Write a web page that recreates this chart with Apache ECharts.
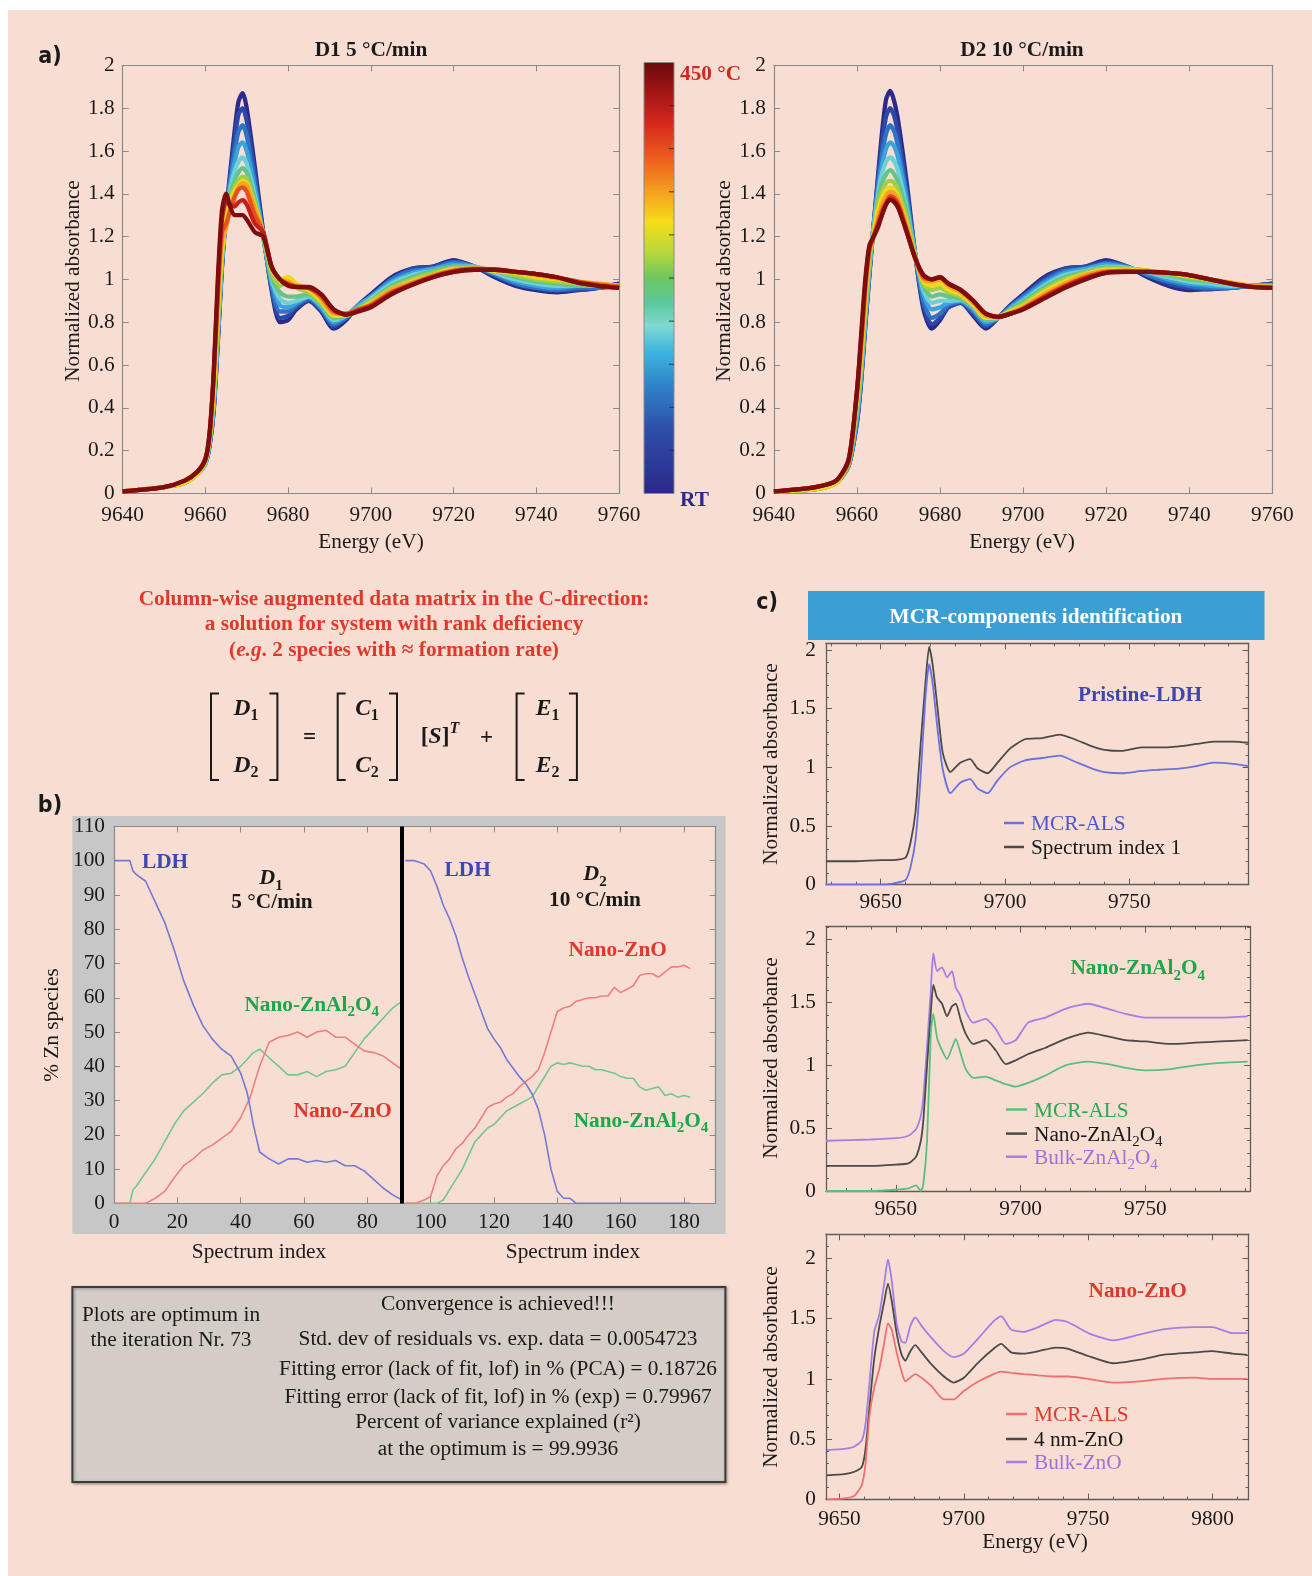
<!DOCTYPE html>
<html><head><meta charset="utf-8">
<script src="https://cdn.jsdelivr.net/npm/echarts@6/dist/echarts.min.js"></script>
<style>
html,body{margin:0;padding:0;background:#fff;width:1312px;height:1576px;overflow:hidden;}
#bg{position:absolute;left:8px;top:10px;width:1304px;height:1566px;background:#f8ded2;}
#chart{position:absolute;left:0;top:0;width:1312px;height:1576px;}
</style></head><body><div id="bg"></div><div id="chart"></div>
<script>
// ================= DATA =================
// Panel a: XANES spectra (energy grid shared by all curves)
const A_ENERGY = [9640,9650,9655,9658,9660,9661,9662,9663,9664,9665,9666,9667,9668,9669,9670,9672,9674,9676,9678,9680,9682,9685,9688,9691,9694,9697,9700,9705,9710,9715,9720,9725,9730,9735,9740,9745,9750,9755,9760];
const A_X_TICKS = [9640,9660,9680,9700,9720,9740,9760];
const A_Y_TICKS = [0,0.2,0.4,0.6,0.8,1,1.2,1.4,1.6,1.8,2];
// D1 5 °C/min, RT -> 450 °C
const D1_S0 = [0.01,0.03,0.05,0.09,0.14,0.22,0.38,0.70,1.05,1.30,1.50,1.68,1.83,1.87,1.80,1.52,1.22,0.95,0.80,0.81,0.86,0.90,0.85,0.77,0.81,0.88,0.93,1.01,1.05,1.06,1.09,1.06,1.01,0.97,0.95,0.94,0.95,0.96,0.98];
const D1_S1 = [0.01,0.03,0.05,0.09,0.14,0.22,0.39,0.71,1.06,1.30,1.48,1.64,1.77,1.80,1.74,1.49,1.21,0.96,0.82,0.83,0.87,0.90,0.86,0.78,0.82,0.88,0.92,1.00,1.05,1.06,1.08,1.06,1.02,0.98,0.96,0.95,0.95,0.96,0.98];
const D1_S2 = [0.01,0.03,0.05,0.09,0.14,0.23,0.40,0.72,1.07,1.30,1.46,1.59,1.69,1.72,1.67,1.45,1.20,0.97,0.85,0.85,0.88,0.91,0.86,0.79,0.82,0.88,0.92,1.00,1.04,1.05,1.08,1.06,1.02,0.98,0.96,0.95,0.96,0.96,0.97];
const D1_S3 = [0.01,0.03,0.05,0.09,0.14,0.23,0.41,0.74,1.08,1.30,1.44,1.54,1.62,1.64,1.60,1.42,1.20,0.99,0.88,0.87,0.89,0.92,0.87,0.80,0.83,0.88,0.92,0.99,1.03,1.05,1.07,1.06,1.03,0.99,0.97,0.96,0.97,0.97,0.97];
const D1_S4 = [0.01,0.03,0.05,0.09,0.14,0.24,0.42,0.75,1.09,1.30,1.42,1.50,1.55,1.57,1.54,1.39,1.20,1.00,0.91,0.89,0.90,0.92,0.88,0.81,0.83,0.87,0.91,0.98,1.02,1.04,1.06,1.06,1.03,1.00,0.98,0.97,0.97,0.97,0.97];
const D1_S5 = [0.01,0.03,0.05,0.09,0.15,0.24,0.43,0.77,1.10,1.30,1.40,1.46,1.50,1.52,1.50,1.37,1.20,1.01,0.94,0.92,0.92,0.93,0.88,0.82,0.83,0.87,0.90,0.97,1.01,1.04,1.06,1.05,1.04,1.01,0.99,0.98,0.97,0.97,0.97];
const D1_S6 = [0.01,0.03,0.05,0.09,0.15,0.25,0.45,0.80,1.11,1.28,1.38,1.43,1.46,1.48,1.47,1.35,1.21,1.03,0.97,0.99,0.96,0.94,0.89,0.83,0.83,0.86,0.90,0.96,1.00,1.03,1.05,1.05,1.04,1.02,1.00,0.99,0.98,0.97,0.97];
const D1_S7 = [0.01,0.03,0.05,0.09,0.15,0.25,0.47,0.84,1.13,1.27,1.36,1.41,1.44,1.46,1.45,1.34,1.22,1.05,1.00,1.01,0.98,0.95,0.90,0.83,0.835,0.86,0.89,0.95,0.99,1.02,1.05,1.05,1.04,1.03,1.01,1.00,0.99,0.98,0.97];
const D1_S8 = [0.01,0.03,0.06,0.10,0.16,0.27,0.52,0.90,1.18,1.24,1.33,1.39,1.43,1.45,1.44,1.33,1.22,1.06,1.00,0.99,0.97,0.96,0.91,0.84,0.84,0.86,0.885,0.95,0.985,1.02,1.045,1.05,1.045,1.035,1.02,1.005,0.99,0.98,0.97];
const D1_S9 = [0.01,0.03,0.06,0.10,0.16,0.27,0.54,0.93,1.22,1.26,1.32,1.38,1.42,1.43,1.41,1.30,1.22,1.06,1.00,0.98,0.965,0.96,0.92,0.85,0.84,0.86,0.88,0.94,0.98,1.015,1.04,1.05,1.045,1.035,1.025,1.01,0.99,0.975,0.965];
const D1_S10 = [0.01,0.03,0.06,0.10,0.16,0.27,0.55,0.96,1.28,1.36,1.35,1.34,1.36,1.37,1.35,1.26,1.22,1.06,1.00,0.975,0.965,0.96,0.93,0.86,0.835,0.855,0.875,0.935,0.975,1.01,1.035,1.045,1.045,1.035,1.025,1.01,0.985,0.97,0.96];
const D1_S11 = [0.01,0.03,0.06,0.10,0.16,0.28,0.56,1.00,1.32,1.40,1.34,1.30,1.30,1.30,1.28,1.22,1.20,1.06,1.00,0.97,0.965,0.965,0.93,0.86,0.835,0.85,0.87,0.93,0.975,1.01,1.035,1.045,1.045,1.035,1.025,1.01,0.985,0.97,0.96];
// D2 10 °C/min, RT -> 450 °C
const D2_S0 = [0.01,0.02,0.05,0.13,0.33,0.52,0.78,1.02,1.25,1.47,1.68,1.84,1.88,1.83,1.73,1.45,1.12,0.86,0.77,0.81,0.87,0.89,0.83,0.77,0.82,0.88,0.93,1.01,1.05,1.06,1.09,1.06,1.01,0.97,0.95,0.955,0.96,0.97,0.98];
const D2_S1 = [0.01,0.02,0.05,0.13,0.34,0.53,0.79,1.03,1.25,1.45,1.63,1.76,1.80,1.76,1.67,1.42,1.12,0.88,0.79,0.82,0.87,0.89,0.84,0.78,0.82,0.88,0.92,1.00,1.05,1.06,1.08,1.06,1.02,0.98,0.96,0.955,0.96,0.97,0.98];
const D2_S2 = [0.01,0.02,0.05,0.13,0.35,0.54,0.80,1.04,1.25,1.43,1.58,1.68,1.72,1.69,1.61,1.39,1.12,0.90,0.82,0.84,0.88,0.895,0.85,0.79,0.82,0.87,0.92,0.99,1.04,1.05,1.075,1.06,1.02,0.99,0.97,0.96,0.96,0.97,0.975];
const D2_S3 = [0.01,0.02,0.05,0.13,0.36,0.55,0.81,1.05,1.25,1.41,1.53,1.61,1.64,1.62,1.56,1.36,1.12,0.93,0.86,0.87,0.89,0.90,0.86,0.80,0.82,0.87,0.91,0.98,1.03,1.05,1.07,1.055,1.03,1.00,0.98,0.97,0.965,0.97,0.97];
const D2_S4 = [0.01,0.02,0.05,0.14,0.38,0.57,0.83,1.06,1.24,1.38,1.49,1.55,1.57,1.55,1.50,1.33,1.12,0.95,0.89,0.90,0.90,0.905,0.87,0.81,0.82,0.86,0.90,0.97,1.02,1.04,1.06,1.055,1.035,1.01,0.99,0.98,0.97,0.97,0.97];
const D2_S5 = [0.01,0.02,0.05,0.14,0.40,0.59,0.85,1.08,1.23,1.36,1.45,1.49,1.51,1.49,1.45,1.31,1.11,0.97,0.92,0.93,0.92,0.91,0.87,0.81,0.82,0.86,0.895,0.96,1.01,1.035,1.055,1.05,1.04,1.02,1.00,0.99,0.98,0.97,0.97];
const D2_S6 = [0.01,0.02,0.05,0.14,0.42,0.61,0.87,1.10,1.22,1.34,1.41,1.45,1.46,1.45,1.41,1.28,1.11,0.98,0.95,0.96,0.94,0.92,0.88,0.82,0.825,0.855,0.885,0.95,1.00,1.03,1.05,1.05,1.04,1.025,1.01,0.995,0.98,0.97,0.97];
const D2_S7 = [0.01,0.02,0.05,0.15,0.44,0.64,0.90,1.12,1.21,1.32,1.38,1.42,1.43,1.42,1.38,1.26,1.10,0.99,0.97,0.98,0.95,0.93,0.88,0.82,0.825,0.85,0.875,0.94,0.99,1.025,1.045,1.045,1.04,1.03,1.015,1.00,0.985,0.97,0.965];
const D2_S8 = [0.01,0.03,0.06,0.15,0.46,0.67,0.93,1.13,1.20,1.28,1.35,1.39,1.41,1.40,1.37,1.25,1.10,1.00,0.99,1.00,0.97,0.94,0.89,0.83,0.825,0.845,0.87,0.93,0.98,1.02,1.04,1.04,1.04,1.03,1.02,1.00,0.985,0.97,0.965];
const D2_S9 = [0.01,0.03,0.06,0.15,0.47,0.70,0.96,1.14,1.20,1.26,1.32,1.36,1.39,1.38,1.35,1.23,1.10,1.01,1.00,1.01,0.98,0.95,0.90,0.84,0.825,0.84,0.865,0.92,0.97,1.01,1.035,1.04,1.035,1.03,1.02,1.00,0.98,0.965,0.96];
const D2_S10 = [0.01,0.03,0.06,0.16,0.48,0.72,0.98,1.15,1.20,1.25,1.30,1.35,1.38,1.37,1.34,1.22,1.10,1.02,1.00,1.01,0.98,0.95,0.90,0.84,0.825,0.84,0.86,0.915,0.965,1.005,1.03,1.035,1.035,1.03,1.02,1.00,0.98,0.965,0.96];
const D2_S11 = [0.01,0.03,0.06,0.16,0.48,0.74,1.00,1.16,1.20,1.24,1.30,1.35,1.37,1.36,1.33,1.22,1.10,1.02,1.00,1.01,0.98,0.95,0.90,0.84,0.825,0.84,0.86,0.91,0.96,1.00,1.03,1.035,1.035,1.03,1.02,1.00,0.98,0.965,0.96];

// Panel b: concentration profiles (% Zn species vs spectrum index)
const B_X_TICKS = [0,20,40,60,80,100,120,140,160,180];
const B_Y_TICKS = [0,10,20,30,40,50,60,70,80,90,100,110];
const B_DIVIDER = 91;
const B_IDX1 = [0,1,4,5,6,7,10,13,16,19,22,25,28,31,34,37,40,42,43,44,46,49,52,55,58,61,64,67,70,73,76,79,82,85,88,91];
const B_LDH1 = [100,100,100,100,97,96,94,88,82,74,65,58,52,48,45,43,38,32.5,28,23,15,13,11.5,13,13,12,12.5,12,12.5,11,11,9.5,7,4.5,2.5,1];
const B_ZNAL1 = [0,0,0,0,4,5,9,13,18,23,27,29.5,32,35,37.5,38,40,42,43,44,45,42.5,40,37.5,37.5,38.5,37,38.5,39,40,44,48,51,54,57,59];
const B_ZNO1 = [0,0,0,0,0,0,0,1.5,3.5,7.5,11,13,15.5,17,19,21,25,29,31,34,40,47,48.5,49,50,48.5,50,50.5,48.5,48.5,46.5,44.5,44,43,41,39];
const B_IDX2 = [92,95,98,100,102,104,106,108,110,112,114,116,118,120,122,124,126,128,130,132,134,136,138,140,142,144,146,148,150,152,154,156,158,160,162,164,166,168,170,172,174,176,178,180,182];
const B_LDH2 = [100,100,99,97,92.5,87,83,78,71.5,66,61,56,51,48,45.5,42,39.5,37,35,32,27.5,20,10,3.5,1.5,1.5,0,0,0,0,0,0,0,0,0,0,0,0,0,0,0,0,0,0,0];
const B_ZNO2 = [0,0,1,2,8,11,13,16,17.5,20,22,25,28,29,29.5,31,32,34,35.5,37,39,44,50,56,57,57.5,59,59.5,60,60,60.5,60.5,63,61.5,62.5,63.5,66.5,67,67,66,67.5,69,69,69.5,68.5];
const B_ZNAL2 = [0,0,0,0,0,1,4,7,10,14,18,20,22,23,25,27,28,29,30,31,34,37,40,41,40.5,41,40.5,40,40,39,39,38.5,38,37,36.5,36.5,34,33,33.5,34,31.5,32,31,31.5,31];

// Panel c: MCR components vs references
const C_Y_TICKS = [0,0.5,1,1.5,2];
const C12_X_TICKS = [9650,9700,9750];
const C3_X_TICKS = [9650,9700,9750,9800];
const C1_E = [9628,9640,9650,9655,9660,9662,9664,9666,9668,9669.5,9671,9673,9675,9678,9682,9686,9689,9693,9697,9702,9708,9715,9722,9728,9735,9740,9747,9755,9762,9770,9777,9784,9792,9798];
const C1_MCR = [0,0,0,0.01,0.04,0.15,0.38,0.9,1.6,1.88,1.7,1.3,0.98,0.78,0.87,0.9,0.82,0.78,0.89,1.0,1.06,1.08,1.1,1.05,0.99,0.96,0.95,0.97,0.98,0.99,1.01,1.04,1.03,1.01];
const C1_SPEC = [0.2,0.2,0.21,0.21,0.23,0.36,0.62,1.18,1.72,2.03,1.86,1.48,1.12,0.96,1.04,1.07,0.99,0.95,1.04,1.16,1.24,1.25,1.28,1.24,1.18,1.15,1.14,1.17,1.17,1.18,1.2,1.22,1.22,1.21];
const C2_E = [9622,9640,9650,9655,9658,9660,9661,9662.5,9664,9665,9666.5,9668.5,9670.5,9672.5,9674,9676,9678,9681,9686,9690,9694,9698,9703,9710,9718,9727,9735,9742,9750,9760,9770,9780,9791];
const C2_MCR = [0,0,0.01,0.02,0.045,0.0,0.05,0.4,1.25,1.41,1.22,1.12,1.05,1.14,1.21,1.09,0.97,0.9,0.91,0.88,0.85,0.83,0.86,0.92,1.0,1.03,1.01,0.98,0.96,0.97,1.0,1.02,1.03];
const C2_NANO = [0.2,0.2,0.21,0.22,0.27,0.4,0.56,1.0,1.42,1.64,1.54,1.49,1.39,1.47,1.49,1.36,1.25,1.17,1.2,1.12,1.01,1.04,1.09,1.14,1.21,1.26,1.23,1.2,1.19,1.17,1.18,1.19,1.2];
const C2_BULK = [0.4,0.41,0.42,0.44,0.49,0.6,0.75,1.15,1.6,1.89,1.75,1.78,1.7,1.75,1.62,1.55,1.43,1.34,1.37,1.29,1.17,1.2,1.34,1.38,1.45,1.49,1.45,1.41,1.38,1.38,1.38,1.38,1.39];
const C3_E = [9645,9652,9656,9659,9660.5,9662,9664,9666,9668,9669.5,9671,9673,9675,9676.5,9678.5,9680.5,9683,9687,9692,9696,9700,9706,9712,9715,9719,9724,9730,9737,9742,9750,9760,9771,9780,9793,9800,9808,9814];
const C3_MCR = [0,0.01,0.03,0.12,0.3,0.68,0.93,1.08,1.3,1.46,1.41,1.22,1.06,0.98,1.01,1.04,1.01,0.94,0.83,0.83,0.9,0.98,1.04,1.06,1.05,1.04,1.03,1.02,1.02,1.0,0.97,0.98,1.0,1.01,1.0,1.0,1.0];
const C3_NANO = [0.2,0.21,0.23,0.27,0.42,0.75,1.17,1.43,1.64,1.79,1.65,1.38,1.2,1.15,1.23,1.28,1.22,1.12,1.02,0.97,1.01,1.14,1.25,1.29,1.22,1.21,1.23,1.26,1.25,1.19,1.13,1.16,1.2,1.22,1.23,1.21,1.2];
const C3_BULK = [0.41,0.42,0.44,0.49,0.63,0.95,1.39,1.53,1.79,1.99,1.82,1.46,1.31,1.3,1.44,1.51,1.44,1.34,1.23,1.18,1.21,1.34,1.48,1.52,1.41,1.39,1.43,1.49,1.47,1.38,1.32,1.37,1.41,1.43,1.43,1.38,1.38];

// ================= STYLE =================
const SERIF = "'Liberation Serif','Times New Roman',Times,serif";
const SANSC = "'DejaVu Sans Condensed','Liberation Sans Narrow','DejaVu Sans',sans-serif";
const FS = 21.3;
const PEACH = '#f8ded2';
const RED = '#e0392b';
const A_COLORS = ['#2b2a8a','#2c47a6','#2f73c4','#3aa2dc','#6fd0d6','#66c48a','#9fd046','#efd91c','#f5a321','#ea4f1f','#c5201b','#7d0e10'];
const D1_SET = [D1_S0,D1_S1,D1_S2,D1_S3,D1_S4,D1_S5,D1_S6,D1_S7,D1_S8,D1_S9,D1_S10,D1_S11];
const D2_SET = [D2_S0,D2_S1,D2_S2,D2_S3,D2_S4,D2_S5,D2_S6,D2_S7,D2_S8,D2_S9,D2_S10,D2_S11];

const GRIDS = [
  {left:122.6, top:65.3, width:496.5, height:428.2},
  {left:773.9, top:65.3, width:498.4, height:428.2},
  {left:114, top:826.4, width:601.6, height:377},
  {left:826, top:643.4, width:422.6, height:241.3},
  {left:826, top:926.6, width:424.2, height:264.4},
  {left:826, top:1234.2, width:422.6, height:265.3}
];

const xAxes = [], yAxes = [], series = [], G = [];

function mkAxis(dim, gi, pos, min, max, labels, ticks, len, cfg, showLine) {
  const arr = dim === 'x' ? xAxes : yAxes;
  arr.push({
    type:'value', gridIndex:gi, position:pos, min:min, max:max,
    splitLine:{show:false}, splitArea:{show:false},
    axisLine:{show:showLine, onZero:false, lineStyle:{color:cfg.frame, width:cfg.fw}},
    axisTick:{show:ticks.length > 0, inside:true, length:len, customValues:ticks, lineStyle:{color:cfg.frame, width:1}},
    axisLabel:{show:labels.length > 0, customValues:labels.length ? labels : undefined,
      formatter:function(v){return String(v);}, fontFamily:SERIF, fontSize:FS, color:'#1a1a1a',
      margin: dim === 'x' ? cfg.mx : cfg.my, padding: dim === 'y' ? [5,0,0,0] : 0},
    axisPointer:{show:false}, silent:true
  });
  return arr.length - 1;
}
function axes(gi, xr, yr, cfg) {
  const xi = mkAxis('x', gi, 'bottom', xr[0], xr[1], cfg.xl, cfg.xl, cfg.len, cfg, true);
  mkAxis('x', gi, 'top', xr[0], xr[1], [], cfg.xl, cfg.len, cfg, true);
  const yi = mkAxis('y', gi, 'left', yr[0], yr[1], cfg.yl, cfg.yl, cfg.len, cfg, true);
  mkAxis('y', gi, 'right', yr[0], yr[1], [], cfg.yl, cfg.len, cfg, true);
  if (cfg.xm) {
    mkAxis('x', gi, 'bottom', xr[0], xr[1], [], cfg.xm, cfg.mlen, cfg, false);
    mkAxis('x', gi, 'top', xr[0], xr[1], [], cfg.xm, cfg.mlen, cfg, false);
  }
  if (cfg.ym) {
    mkAxis('y', gi, 'left', yr[0], yr[1], [], cfg.ym, cfg.mlen, cfg, false);
    mkAxis('y', gi, 'right', yr[0], yr[1], [], cfg.ym, cfg.mlen, cfg, false);
  }
  return [xi, yi];
}
function addLine(ax, xs, ys, color, width, smooth, z, extra) {
  const s = {type:'line', xAxisIndex:ax[0], yAxisIndex:ax[1],
    data: xs.map(function(x, i){ return [x, ys[i]]; }),
    showSymbol:false, symbol:'none', smooth:smooth, lineStyle:{color:color, width:width},
    z:z || 2, silent:true, animation:false, emphasis:{disabled:true}};
  if (extra) Object.assign(s, extra);
  series.push(s);
}

// minor tick positions (tick positions only)
function range(a, b, st) { const r = []; for (let v = a; v <= b + 1e-9; v += st) r.push(Math.round(v * 1000) / 1000); return r; }

const cfgA = {frame:'#8a8a8a', fw:1.2, mx:11, my:8, len:6, xl:A_X_TICKS, yl:A_Y_TICKS};
const axA1 = axes(0, [9640, 9760], [0, 2], cfgA);
const axA2 = axes(1, [9640, 9760], [0, 2], cfgA);
const axB = axes(2, [0, 190], [0, 110], {frame:'#8a8a8a', fw:1.2, mx:8, my:9, len:6, xl:B_X_TICKS, yl:B_Y_TICKS});
const cfgC = {frame:'#5e5e5e', fw:1.3, my:10, len:6, mlen:3, yl:C_Y_TICKS};
const axC1 = axes(3, [9628, 9798], [0, 2.057], Object.assign({}, cfgC, {mx:7.5, xl:C12_X_TICKS, xm:range(9630, 9790, 10), ym:range(0.1, 2.0, 0.1)}));
const axC2 = axes(4, [9622, 9792], [0, 2.104], Object.assign({}, cfgC, {mx:7.5, xl:C12_X_TICKS, xm:range(9630, 9790, 10), ym:range(0.1, 2.1, 0.1)}));
const axC3 = axes(5, [9644.6, 9814.5], [0, 2.2], Object.assign({}, cfgC, {mx:9.5, xl:C3_X_TICKS, xm:range(9650, 9810, 10), ym:range(0.1, 2.2, 0.1)}));

// Panel a series
D1_SET.forEach(function(ys, k){ addLine(axA1, A_ENERGY, ys, A_COLORS[k], 4.3, 0.25, 2 + k * 0.01); });
D2_SET.forEach(function(ys, k){ addLine(axA2, A_ENERGY, ys, A_COLORS[k], 4.3, 0.25, 2 + k * 0.01); });

// Panel b series
const LDH_C = '#7479d6', ZNO_C = '#ef7f7f', ZNAL_C = '#72c78c';
addLine(axB, B_IDX1, B_ZNAL1, ZNAL_C, 1.6, false, 3);
addLine(axB, B_IDX1, B_ZNO1, ZNO_C, 1.6, false, 3);
addLine(axB, B_IDX1, B_LDH1, LDH_C, 1.6, false, 3, {
  markLine:{silent:true, symbol:['none','none'], label:{show:false}, animation:false,
    lineStyle:{color:'#000', width:4, type:'solid'}, emphasis:{disabled:true}, data:[{xAxis:B_DIVIDER}]}});
addLine(axB, B_IDX2, B_ZNAL2, ZNAL_C, 1.6, false, 3);
addLine(axB, B_IDX2, B_ZNO2, ZNO_C, 1.6, false, 3);
addLine(axB, B_IDX2, B_LDH2, LDH_C, 1.6, false, 3);

// Panel c series
const C_BLUE = '#6a70e0', C_GRAY = '#4a4a4a', C_GREEN = '#58c07c', C_PURPLE = '#a27fe6', C_RED = '#f07070';
addLine(axC1, C1_E, C1_SPEC, C_GRAY, 1.8, 0.2, 3);
addLine(axC1, C1_E, C1_MCR, C_BLUE, 1.8, 0.2, 4);
addLine(axC2, C2_E, C2_BULK, C_PURPLE, 1.8, 0.2, 3);
addLine(axC2, C2_E, C2_NANO, C_GRAY, 1.8, 0.2, 4);
addLine(axC2, C2_E, C2_MCR, C_GREEN, 1.8, 0.2, 5);
addLine(axC3, C3_E, C3_BULK, C_PURPLE, 1.8, 0.2, 3);
addLine(axC3, C3_E, C3_NANO, C_GRAY, 1.8, 0.2, 4);
addLine(axC3, C3_E, C3_MCR, C_RED, 1.8, 0.2, 5);

// ================= GRAPHICS (text, frames) =================
const DY = 2.5;
function txt(x, y, text, o) {
  o = o || {};
  if (o.rot) x += DY; else y += DY;
  G.push({type:'text', x:x, y:y, rotation:o.rot || 0, z:o.z || 50, silent:true,
    style:{text:text, fill:o.color || '#1a1a1a', fontFamily:o.ff || SERIF, fontSize:o.fs || FS,
      fontWeight:o.fw || 'normal', fontStyle:o.it ? 'italic' : 'normal',
      align:o.align || 'center', verticalAlign:o.va || 'middle',
      textAlign:o.align || 'center', textVerticalAlign:o.va || 'middle', rich:o.rich}});
}
function rect(x, y, w, h, style, z) { G.push({type:'rect', silent:true, z:z || 0, shape:{x:x, y:y, width:w, height:h}, style:style}); }
function poly(points, stroke, lw) { G.push({type:'polyline', silent:true, z:50, shape:{points:points}, style:{stroke:stroke, lineWidth:lw, fill:null}}); }
function seg(x1, y1, x2, y2, stroke, lw) { G.push({type:'line', silent:true, z:50, shape:{x1:x1, y1:y1, x2:x2, y2:y2}, style:{stroke:stroke, lineWidth:lw}}); }
function R(color, fs, bold) {
  const fw = bold ? 'bold' : 'normal';
  const small = Math.round(fs * 0.7);
  return {
    m:{fill:color, fontFamily:SERIF, fontSize:fs, fontWeight:fw, fontStyle:'normal', lineHeight:fs + 8},
    i:{fill:color, fontFamily:SERIF, fontSize:fs, fontWeight:fw, fontStyle:'italic', lineHeight:fs + 8},
    s:{fill:color, fontFamily:SERIF, fontSize:small, fontWeight:fw, fontStyle:'normal', verticalAlign:'bottom'},
    p:{fill:color, fontFamily:SERIF, fontSize:small, fontWeight:fw, fontStyle:'italic', verticalAlign:'top'}
  };
}
const ZNAL_TXT = '{m|Nano-ZnAl}{s|2}{m|O}{s|4}';

// ---- panel a ----
txt(50, 55, 'a)', {ff:SANSC, fs:23, fw:'bold'});
txt(371, 48, 'D1 5 °C/min', {fw:'bold'});
txt(1022, 48, 'D2 10 °C/min', {fw:'bold'});
txt(70.4, 281, 'Normalized absorbance', {rot:Math.PI / 2});
txt(721.6, 281, 'Normalized absorbance', {rot:Math.PI / 2});
txt(371, 540, 'Energy (eV)');
txt(1022, 540, 'Energy (eV)');
rect(644, 62.5, 30, 431, {stroke:'#8a8a8a', lineWidth:1, fill:new echarts.graphic.LinearGradient(0, 0, 0, 1, [
  {offset:0, color:'#680b0b'}, {offset:0.06, color:'#9a1414'}, {offset:0.14, color:'#d4261c'},
  {offset:0.22, color:'#ee5a1f'}, {offset:0.30, color:'#f5a020'}, {offset:0.37, color:'#f6dc18'},
  {offset:0.44, color:'#b8d93a'}, {offset:0.50, color:'#6cc760'}, {offset:0.56, color:'#5cc9a0'},
  {offset:0.61, color:'#80d9d0'}, {offset:0.67, color:'#3db6e0'}, {offset:0.75, color:'#2f82c8'},
  {offset:0.85, color:'#2d4fa8'}, {offset:1, color:'#2c2788'}])}, 10);
for (let k = 1; k <= 9; k++) { const yy = 62.5 + 431 * k / 10; seg(669, yy, 674, yy, '#333', 1); }
txt(680, 71.5, '450 °C', {align:'left', color:'#d0281e', fw:'bold'});
txt(680, 497.5, 'RT', {align:'left', color:'#2d2a87', fw:'bold'});

// ---- middle text & equation ----
txt(394, 597, 'Column-wise augmented data matrix in the C-direction:', {color:RED, fw:'bold'});
txt(394, 622, 'a solution for system with rank deficiency', {color:RED, fw:'bold'});
txt(394, 648, '{m|(}{i|e.g}{m|. 2 species with ≈ formation rate)}', {rich:R(RED, FS, true)});
const EQ = '#1a1a1a', BT = 693.5, BB = 780, SER = 8;
[[211, 277.4], [337.7, 397], [516.6, 576.9]].forEach(function(p){
  poly([[p[0] + SER, BT], [p[0], BT], [p[0], BB], [p[0] + SER, BB]], EQ, 2);
  poly([[p[1] - SER, BT], [p[1], BT], [p[1], BB], [p[1] - SER, BB]], EQ, 2);
});
const RQ = R(EQ, 23.5, true);
txt(246, 706, '{i|D}{s|1}', {rich:RQ});
txt(246, 763, '{i|D}{s|2}', {rich:RQ});
txt(309.5, 736, '=', {fw:'bold', fs:23});
txt(367, 706, '{i|C}{s|1}', {rich:RQ});
txt(367, 763, '{i|C}{s|2}', {rich:RQ});
txt(440, 734, '{m|[}{i|S}{m|]}{p|T}', {rich:RQ});
txt(486.5, 736, '+', {fw:'bold', fs:23});
txt(547.7, 706, '{i|E}{s|1}', {rich:RQ});
txt(547.7, 763, '{i|E}{s|2}', {rich:RQ});

// ---- panel b ----
txt(50, 804, 'b)', {ff:SANSC, fs:23, fw:'bold'});
rect(72.4, 816, 653.2, 418, {fill:'#c7c7c7'}, -10);
rect(114, 826.4, 601.6, 377, {fill:PEACH}, -9);
txt(165, 860, 'LDH', {color:'#3b47b8', fw:'bold'});
txt(271, 876, '{i|D}{s|1}', {rich:R('#1a1a1a', 22, true)});
txt(272, 900, '5 °C/min', {fw:'bold'});
txt(311.7, 1002.5, ZNAL_TXT, {rich:R('#1aa84a', FS, true)});
txt(342.7, 1108.5, 'Nano-ZnO', {color:RED, fw:'bold'});
txt(467.7, 867.5, 'LDH', {color:'#3b47b8', fw:'bold'});
txt(595, 872, '{i|D}{s|2}', {rich:R('#1a1a1a', 22, true)});
txt(595, 897.5, '10 °C/min', {fw:'bold'});
txt(617.7, 947.5, 'Nano-ZnO', {color:RED, fw:'bold'});
txt(641, 1118.5, ZNAL_TXT, {rich:R('#1aa84a', FS, true)});
txt(50, 1025, '% Zn species', {rot:Math.PI / 2});
txt(259, 1249.5, 'Spectrum index');
txt(573, 1249.5, 'Spectrum index');

// ---- convergence box ----
rect(72.4, 1287, 653, 195, {fill:'#d3cdc6', stroke:'#3c3c3c', lineWidth:2, shadowBlur:3, shadowColor:'rgba(0,0,0,0.35)', shadowOffsetX:1, shadowOffsetY:1}, 0);
txt(171, 1312.5, 'Plots are optimum in');
txt(171, 1337.5, 'the iteration Nr. 73');
txt(498, 1301.5, 'Convergence is achieved!!!');
txt(498, 1336.7, 'Std. dev of residuals vs. exp. data = 0.0054723');
txt(498, 1366.8, 'Fitting error (lack of fit, lof) in % (PCA) = 0.18726');
txt(498, 1395, 'Fitting error (lack of fit, lof) in % (exp) = 0.79967');
txt(498, 1420, 'Percent of variance explained (r²)');
txt(498, 1447.2, 'at the optimum is = 99.9936');

// ---- panel c ----
txt(767, 601, 'c)', {ff:SANSC, fs:23, fw:'bold'});
rect(808, 591, 456.5, 49, {fill:'#3c9fd3'}, 1);
txt(1036, 614.5, 'MCR-components identification', {color:'#ffffff', fw:'bold'});
txt(769, 764, 'Normalized absorbance', {rot:Math.PI / 2});
txt(769, 1058, 'Normalized absorbance', {rot:Math.PI / 2});
txt(769, 1367, 'Normalized absorbance', {rot:Math.PI / 2});
txt(1035, 1539.5, 'Energy (eV)');
// c1
txt(1140, 692.5, 'Pristine-LDH', {color:'#3c47b0', fw:'bold'});
seg(1004, 823, 1024, 823, C_BLUE, 2.5); txt(1031, 822, 'MCR-ALS', {align:'left', color:'#4d57cf'});
seg(1004, 847, 1024, 847, C_GRAY, 2.5); txt(1031, 846, 'Spectrum index 1', {align:'left'});
// c2
txt(1137.7, 966, ZNAL_TXT, {rich:R('#1aa84a', FS, true)});
seg(1006, 1109.5, 1027, 1109.5, C_GREEN, 2.5); txt(1034, 1108.5, 'MCR-ALS', {align:'left', color:'#2aa84f'});
seg(1006, 1133.6, 1027, 1133.6, C_GRAY, 2.5); txt(1034, 1132.6, ZNAL_TXT, {align:'left', rich:R('#1a1a1a', FS, false)});
seg(1006, 1156.7, 1027, 1156.7, C_PURPLE, 2.5); txt(1034, 1155.7, '{m|Bulk-ZnAl}{s|2}{m|O}{s|4}', {align:'left', rich:R('#9c73dd', FS, false)});
// c3
txt(1137.7, 1288.5, 'Nano-ZnO', {color:RED, fw:'bold'});
seg(1006, 1414, 1027, 1414, C_RED, 2.5); txt(1034, 1413, 'MCR-ALS', {align:'left', color:RED});
seg(1006, 1439, 1027, 1439, C_GRAY, 2.5); txt(1034, 1438, '4 nm-ZnO', {align:'left'});
seg(1006, 1462, 1027, 1462, C_PURPLE, 2.5); txt(1034, 1461, 'Bulk-ZnO', {align:'left', color:'#9c73dd'});

// ================= CHART =================
const chart = echarts.init(document.getElementById('chart'), null, {renderer:'canvas', width:1312, height:1576});
chart.setOption({
  animation:false,
  backgroundColor:'transparent',
  grid: GRIDS.map(function(g){ return Object.assign({outerBoundsMode:'none', containLabel:false, show:false}, g); }),
  xAxis: xAxes,
  yAxis: yAxes,
  series: series,
  graphic: {elements: G}
});
</script>
</body></html>
